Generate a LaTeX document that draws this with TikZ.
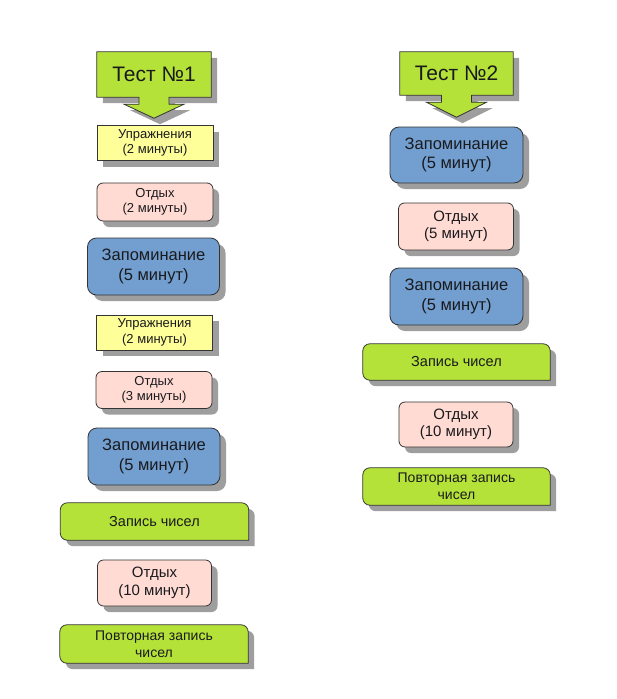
\documentclass[tikz,border=0pt]{standalone}
\usepackage{fontspec}
\setmainfont{Liberation Sans}
\usetikzlibrary{calc,shadows,backgrounds,positioning}
\definecolor{grn}{RGB}{180,226,56}
\definecolor{ylw}{RGB}{255,255,153}
\definecolor{pnk}{RGB}{255,219,211}
\definecolor{blu}{RGB}{114,159,207}
\definecolor{edge}{RGB}{52,52,52}
\definecolor{txt}{RGB}{26,26,30}
\tikzset{shade/.style={drop shadow={shadow xshift=6pt,shadow yshift=-6pt,fill=black!38,opacity=1}}}
\tikzstyle{box} = [rectangle, draw=edge, line width=0.8pt, text=txt, align=center,
    inner sep=0pt, shade]
\tikzstyle{upr} = [box, fill=ylw, minimum width=116pt, minimum height=35pt,
    font=\fontsize{13}{15.5}\selectfont]
\tikzstyle{rest} = [box, fill=pnk, rounded corners=6pt, minimum width=116pt,
    minimum height=38pt, font=\fontsize{13}{15.5}\selectfont]
\tikzstyle{restbig} = [rest, minimum width=114pt, minimum height=46pt,
    font=\fontsize{15}{17.5}\selectfont]
\tikzstyle{mem} = [box, fill=blu, rounded corners=9pt, minimum width=132pt,
    minimum height=57pt, font=\fontsize{16.5}{19.5}\selectfont]
\tikzstyle{rec} = [rectangle, text=txt, align=center, inner sep=0pt,
    minimum width=188pt, minimum height=37pt, font=\fontsize{14.5}{17}\selectfont]
\tikzstyle{rep} = [rec, font=\fontsize{14}{17}\selectfont]
\tikzstyle{recpath} = [fill=grn, draw=edge, line width=0.8pt, shade]
\tikzstyle{title} = [rectangle, text=txt, inner sep=0pt, minimum width=114pt,
    minimum height=45pt, font=\fontsize{21}{25}\selectfont]
\tikzstyle{titlepath} = [fill=grn, draw=edge, line width=0.8pt, shade]

\begin{document}
\begin{tikzpicture}[x=1pt, y=-1pt]
\useasboundingbox (0,0) rectangle (616,699);
%Test 1:
\node[title](T_1) at (154,74.5) {Тест №1};
\node[upr](U_1) at (155,143) {Упражнения\\(2 минуты)};
\node[rest](O_1) at (155,202) {Отдых\\(2 минуты)};
\node[mem](Z_1) at (153.5,266.5) {Запоминание\\(5 минут)};
\node[upr](U_2) at (154.5,332.5) {Упражнения\\(2 минуты)};
\node[rest,minimum height=37pt](O_2) at (154,390) {Отдых\\(3 минуты)};
\node[mem](Z_2) at (154,456.5) {Запоминание\\(5 минут)};
\node[rec](R_1) at (154.5,521.5) {Запись чисел};
\node[restbig](O_3) at (154.5,583) {Отдых\\(10 минут)};
\node[rep,minimum height=38pt](P_1) at (154,644) {Повторная запись\\чисел};
%Test 2:
\node[title,minimum width=113pt,minimum height=43pt](T_2) at (456.5,73.5) {Тест №2};
\node[mem,minimum width=133pt,minimum height=56pt](Z_3) at (456.5,155) {Запоминание\\(5 минут)};
\node[restbig,minimum width=115pt,minimum height=47pt](O_4) at (456,226.5) {Отдых\\(5 минут)};
\node[mem,minimum width=133pt](Z_4) at (456.5,296.5) {Запоминание\\(5 минут)};
\node[rec,minimum width=187pt,minimum height=36pt](R_2) at (456.5,362) {Запись чисел};
\node[restbig,minimum height=45pt](O_5) at (456,424.5) {Отдых\\(10 минут)};
\node[rep,minimum width=187pt](P_2) at (456.5,486.5) {Повторная запись\\чисел};
%Shapes behind the titles and the green boxes:
\begin{pgfonlayer}{background}
\foreach \t/\tip in {T_1/21,T_2/22}
  \path[titlepath] (\t.north west) -- (\t.north east) -- (\t.south east)
    -- ($(\t.south)+(15,0)$) -- ($(\t.south)+(15,7)$) -- ($(\t.south)+(30,7)$)
    -- ($(\t.south)+(0,\tip)$) -- ($(\t.south)+(-30,7)$) -- ($(\t.south)+(-15,7)$)
    -- ($(\t.south)+(-15,0)$) -- (\t.south west) -- cycle;
\foreach \r in {R_1,P_1,R_2,P_2}
  \path[recpath] (\r.south east) [rounded corners=7pt] -- (\r.north east)
    -- (\r.north west) -- (\r.south west) [sharp corners] -- cycle;
\end{pgfonlayer}
\end{tikzpicture}
\end{document}
